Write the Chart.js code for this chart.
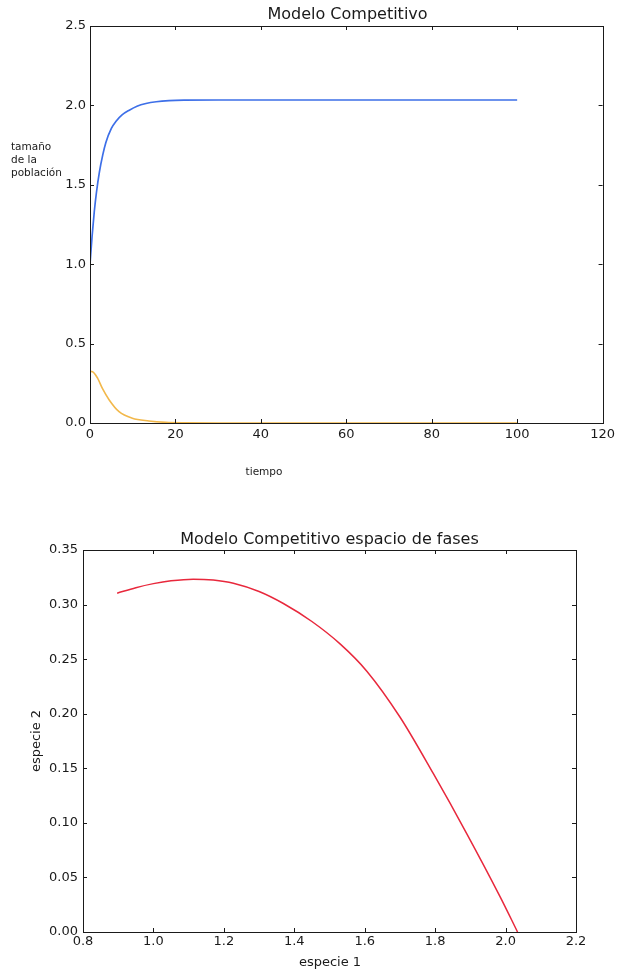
<!DOCTYPE html>
<html>
<head>
<meta charset="utf-8">
<script src="https://cdn.jsdelivr.net/npm/chart.js@4.4.1/dist/chart.umd.min.js"></script>
<style>
  html, body { margin: 0; padding: 0; background: #fff; }
  body { width: 619px; height: 972px; position: relative; overflow: hidden; }
  .wrap { position: absolute; left: 0; width: 619px; }
  #w1 { top: 0; height: 490px; }
  #w2 { top: 500px; height: 472px; }
</style>
</head>
<body>
<div class="wrap" id="w1"><canvas id="c1" width="619" height="490"></canvas></div>
<div class="wrap" id="w2"><canvas id="c2" width="619" height="472"></canvas></div>
<script>
// ---- Data: time series (Modelo Competitivo) ----
const tiempo1  = [0, 0.5, 1.0, 1.5, 2.2, 3.0, 3.7, 5.0, 6.1, 7.5, 9.2, 11, 13.1, 15.5, 18.5, 22, 30, 40, 60, 80, 100];
const especie1 = [1.0, 1.18, 1.33, 1.45, 1.58, 1.69, 1.765, 1.855, 1.90, 1.94, 1.97, 1.995, 2.012, 2.023, 2.030, 2.033, 2.034, 2.034, 2.034, 2.034, 2.034];
const tiempo2  = [0, 0.6, 1.8, 2.9, 4.5, 6.8, 9.9, 13.8, 17.7, 22, 30, 40, 60, 80, 100];
const especie2 = [0.325, 0.323, 0.281, 0.218, 0.145, 0.071, 0.030, 0.013, 0.004, 0.001, 0, 0, 0, 0, 0];

// ---- Data: phase space ----
const faseX = [0.897, 0.95, 1.00, 1.05, 1.113, 1.17, 1.227, 1.30, 1.369, 1.45, 1.53, 1.606, 1.70, 1.795, 1.89, 1.985, 2.034];
const faseY = [0.3104, 0.3155, 0.3192, 0.3218, 0.3233, 0.3225, 0.3196, 0.3120, 0.301, 0.2845, 0.264, 0.239, 0.197, 0.145, 0.090, 0.032, 0.0];

// ---- Axis ticks ----
const ticks1X = [0, 20, 40, 60, 80, 100, 120];
const ticks1Y = [0, 0.5, 1.0, 1.5, 2.0, 2.5];
const ticks2X = [0.8, 1.0, 1.2, 1.4, 1.6, 1.8, 2.0, 2.2];
const ticks2Y = [0, 0.05, 0.10, 0.15, 0.20, 0.25, 0.30, 0.35];

// ---- Text ----
const titulo1 = 'Modelo Competitivo';
const ylab1 = ['tamaño', 'de la', 'población'];
const xlab1 = 'tiempo';
const titulo2 = 'Modelo Competitivo espacio de fases';
const xlab2 = 'especie 1';
const ylab2 = 'especie 2';

const FONT = '"DejaVu Sans", Verdana, sans-serif';
const INK = '#1a1a1a';

function pts(xs, ys) { return xs.map((x, i) => ({ x: x, y: ys[i] })); }

// Plugin: frame box, inward ticks on all four sides, and text labels
function framePlugin(texts) {
  return {
    id: 'frame',
    afterDraw(chart) {
      const ctx = chart.ctx;
      const a = chart.chartArea;
      const sx = chart.scales.x, sy = chart.scales.y;
      ctx.save();
      ctx.strokeStyle = INK;
      ctx.lineWidth = 1;
      ctx.strokeRect(Math.round(a.left) + 0.5, Math.round(a.top) + 0.5,
                     Math.round(a.right - a.left), Math.round(a.bottom - a.top));
      const L = 4;
      ctx.beginPath();
      sx.ticks.forEach(t => {
        const px = Math.round(sx.getPixelForValue(t.value)) + 0.5;
        ctx.moveTo(px, a.bottom); ctx.lineTo(px, a.bottom - L);
        ctx.moveTo(px, a.top); ctx.lineTo(px, a.top + L);
      });
      sy.ticks.forEach(t => {
        const py = Math.round(sy.getPixelForValue(t.value)) + 0.5;
        ctx.moveTo(a.left, py); ctx.lineTo(a.left + L, py);
        ctx.moveTo(a.right, py); ctx.lineTo(a.right - L, py);
      });
      ctx.stroke();
      ctx.fillStyle = INK;
      texts.forEach(tx => {
        ctx.save();
        ctx.font = tx.font;
        ctx.textAlign = tx.align || 'center';
        ctx.textBaseline = 'middle';
        ctx.translate(tx.x, tx.y);
        if (tx.rot) ctx.rotate(tx.rot);
        ctx.fillText(tx.text, 0, 0);
        ctx.restore();
      });
      ctx.restore();
    }
  };
}

function makeScales(xt, xdec, yt, ydec, yWidth, xHeight, xPad, yPad) {
  return {
    x: {
      type: 'linear', min: xt[0], max: xt[xt.length - 1],
      grid: { display: false, drawTicks: false },
      border: { display: false },
      afterBuildTicks(s) { s.ticks = xt.map(v => ({ value: v })); },
      ticks: { color: INK, padding: xPad, maxRotation: 0, autoSkip: false,
               font: { family: FONT, size: 13 }, callback: v => Number(v).toFixed(xdec) },
      afterFit(s) { s.height = xHeight; }
    },
    y: {
      type: 'linear', min: yt[0], max: yt[yt.length - 1],
      grid: { display: false, drawTicks: false },
      border: { display: false },
      afterBuildTicks(s) { s.ticks = yt.map(v => ({ value: v })); },
      ticks: { color: INK, padding: yPad, autoSkip: false,
               font: { family: FONT, size: 13 }, callback: v => Number(v).toFixed(ydec) },
      afterFit(s) { s.width = yWidth; }
    }
  };
}

// ---- Chart 1 ----
new Chart(document.getElementById('c1'), {
  type: 'line',
  data: {
    datasets: [
      { data: pts(tiempo1, especie1), borderColor: '#3d6fe8', borderWidth: 1.7, pointRadius: 0,
        cubicInterpolationMode: 'monotone', fill: false },
      { data: pts(tiempo2, especie2), borderColor: '#f2b84b', borderWidth: 1.6, pointRadius: 0,
        cubicInterpolationMode: 'monotone', fill: false }
    ]
  },
  options: {
    responsive: false, animation: false, devicePixelRatio: 1,
    layout: { padding: { left: 0, right: 14, top: 26, bottom: 0 } },
    plugins: { legend: { display: false }, tooltip: { enabled: false }, title: { display: false } },
    scales: makeScales(ticks1X, 0, ticks1Y, 1, 90, 67, 4, 4)
  },
  plugins: [framePlugin([
    { text: titulo1, x: 347.5, y: 15, font: '16px ' + FONT },
    { text: ylab1[0], x: 11, y: 147, align: 'left', font: '10.5px ' + FONT },
    { text: ylab1[1], x: 11, y: 160, align: 'left', font: '10.5px ' + FONT },
    { text: ylab1[2], x: 11, y: 173, align: 'left', font: '10.5px ' + FONT },
    { text: xlab1, x: 264, y: 472, font: '10.5px ' + FONT }
  ])]
});

// ---- Chart 2 ----
new Chart(document.getElementById('c2'), {
  type: 'line',
  data: {
    datasets: [
      { data: pts(faseX, faseY), borderColor: '#e8283c', borderWidth: 1.5, pointRadius: 0,
        cubicInterpolationMode: 'monotone', fill: false }
    ]
  },
  options: {
    responsive: false, animation: false, devicePixelRatio: 1,
    layout: { padding: { left: 0, right: 43, top: 50, bottom: 0 } },
    plugins: { legend: { display: false }, tooltip: { enabled: false }, title: { display: false } },
    scales: makeScales(ticks2X, 1, ticks2Y, 2, 83, 40, 2, 5)
  },
  plugins: [framePlugin([
    { text: titulo2, x: 329.5, y: 40, font: '16px ' + FONT },
    { text: xlab2, x: 330, y: 463, font: '13px ' + FONT },
    { text: ylab2, x: 37, y: 241, rot: -Math.PI / 2, font: '13px ' + FONT }
  ])]
});
</script>
</body>
</html>
